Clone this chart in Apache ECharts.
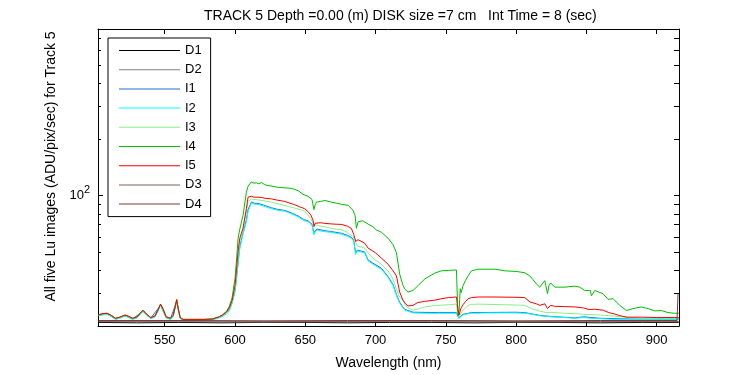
<!DOCTYPE html>
<html>
<head>
<meta charset="utf-8">
<script src="https://cdn.jsdelivr.net/npm/echarts@6/dist/echarts.min.js"></script>
<style>
html, body { margin: 0; padding: 0; background: #fff; }
#main { width: 750px; height: 375px; }
</style>
</head>
<body>
<div id="main"></div>
<script>
// [wavelength nm, ADU/pix/sec]
var d1 = [[503,20.9],[530,20.8],[560,20.9],[590,20.8],[620,20.9],[650,20.9],[680,20.8],[710,20.9],[740,20.9],[770,20.8],[800,20.9],[830,20.9],[860,20.8],[890,20.9],[915.8,20.9]];
var d2 = [[503,21.1],[560,21.1],[620,21.0],[680,21.1],[740,21.1],[800,21.0],[860,21.1],[915.8,21.1]];
var d3 = [[503,21.2],[560,21.3],[620,21.2],[680,21.2],[740,21.3],[800,21.2],[860,21.2],[915.8,21.2]];
var d4 = [[503,21.4],[560,21.4],[620,21.3],[680,21.4],[740,21.4],[800,21.3],[860,21.4],[914.6,21.4],[915.3,29.8]];

var i1 = [[503,22.8],[509,23.2],[515,21.8],[521.7,22.7],[527,21.8],[534.5,24.0],[540,22.0],[547,25.8],[551,22.2],[554,21.8],[558.5,27.1],[561,22.0],[563,21.6],[584,21.7],[591,22.6],[596,24.4],[598,26.8],[600,31],[601,36],[602.2,44],[603.4,53],[605.7,63],[608.1,74],[609.3,84],[611.7,92.4],[614,90.8],[616.4,90.8],[620,89],[625.9,86],[630,84.4],[635.4,83.2],[640,80.8],[644.9,77.7],[649,74.3],[652,73.2],[654.8,70.2],[656.2,62.5],[657,64.8],[658.5,66.1],[663.9,64.8],[668,64.2],[675.7,62.8],[680,61.2],[682.8,59.8],[684.5,57.6],[685.9,49],[687,51],[692.3,49.8],[694.7,45.1],[698.2,43.4],[704.2,40.8],[708.9,36.8],[712.5,33.3],[714.9,29.5],[717.2,26.8],[719.6,25.2],[721,24.5],[723.1,24.2],[726.7,23.7],[745,23.6],[757.6,23.6],[759.5,22.1],[762.3,23.1],[768.3,23.6],[800,23.7],[806.2,23.6],[816.9,22.8],[824.7,22.5],[841.8,22.1],[848,22.4],[860,22.0],[880,21.8],[915.8,21.8]];

var i2 = [[503,22.7],[506,23.0],[509,23.1],[512,22.5],[515,21.7],[518,22.0],[521.7,22.6],[524,22.3],[527,21.7],[530,22.0],[532.5,23.0],[534.5,23.9],[537,22.9],[540,21.9],[543,22.3],[545,23.8],[547,25.7],[549,24.1],[551,22.1],[554,21.7],[556,22.4],[557.5,25.0],[558.5,27.0],[559.5,24.6],[561,21.9],[563,21.5],[570,21.5],[578,21.5],[584,21.6],[588,22.0],[591,22.5],[594,23.2],[596,24.2],[598,26.5],[600,30.5],[601,35],[602.2,43],[603.4,52],[605.7,62],[608.1,72.4],[609.3,82],[611.7,91.4],[614,89.7],[616.4,89.7],[620,88],[625.9,85],[630,83.5],[635.4,82.4],[640,80],[644.9,76.9],[649,73.5],[652,72.4],[654.8,69.5],[656.2,61.6],[657,64],[658.5,65.4],[661,64.5],[663.9,64.1],[668,63.5],[672,62.8],[675.7,62.1],[680,60.5],[682.8,59.1],[684.5,57],[685.9,48.3],[687,50.5],[689,50],[692.3,49.3],[694.7,44.6],[698.2,42.9],[701,41.5],[704.2,40.3],[708.9,36.4],[712.5,32.9],[714.9,29.2],[717.2,26.5],[719.6,25.0],[721,24.3],[723.1,24.0],[726.7,23.5],[735,23.4],[745,23.4],[757.6,23.4],[759.5,21.9],[760.7,22.5],[762.3,22.9],[765.9,23.3],[768.3,23.4],[780,23.5],[800,23.5],[806.2,23.4],[810,23.2],[816.9,22.7],[824.7,22.4],[834.7,22.2],[841.8,22.0],[848,22.2],[853,22.0],[860,21.9],[869,21.7],[880,21.7],[900,21.7],[915.8,21.7]];

var i3 = [[503,22.9],[506,23.2],[509,23.3],[512,22.7],[515,21.9],[518,22.2],[521.7,22.8],[524,22.5],[527,21.9],[530,22.2],[532.5,23.3],[534.5,24.2],[537,23.1],[540,22.1],[543,22.5],[545,24.1],[547,26.0],[549,24.4],[551,22.3],[554,21.9],[556,22.7],[557.5,25.3],[558.5,27.5],[559.5,24.9],[561,22.1],[563,21.7],[570,21.7],[578,21.7],[584,21.8],[588,22.2],[591,22.8],[594,23.6],[596,24.8],[598,27.0],[600,32],[601,38],[602.2,48],[603.4,57],[605.7,65],[608.1,82],[609.3,93],[611.7,96],[615,95],[620,94],[625.9,92.2],[632,89.8],[638,87.5],[644,85],[649.6,82.4],[653.9,75.3],[656,70],[658,69.5],[661,68.5],[664,68],[668,67],[672,66],[676,65.4],[680,63.5],[684,60.3],[686.5,55],[687.6,53.4],[690,53],[692.3,52.3],[694.7,49.3],[698,46.4],[701,44.5],[704,42.9],[708.9,39.5],[712.5,35.7],[714.9,31.6],[717.2,28.5],[719.6,27.5],[721,26],[723.1,25.0],[726.7,24.3],[730,24.6],[735,25.3],[742,25.7],[748,25.9],[752,26],[757.6,26.2],[758.7,23.0],[759.5,22.3],[760.5,23.2],[762.3,24.3],[765.9,25.8],[768.3,26.1],[773,26.2],[800,25.9],[806.2,25.8],[811,24.8],[816.9,24],[822,23.6],[827.6,23.6],[834.7,23.4],[841.8,23.3],[848,23.1],[860,22.9],[870,22.6],[880,22.2],[890,22.0],[915.8,22.0]];

var i4 = [[503,23.0],[506,23.3],[509,23.4],[512,22.8],[515,22.0],[518,22.3],[521.7,22.9],[524,22.6],[527,22.0],[530,22.3],[532.5,23.4],[534.5,24.3],[537,23.2],[540,22.2],[543,22.6],[545,24.2],[547,26.2],[549,24.5],[551,22.4],[554,22.0],[556,22.8],[557.5,25.5],[558.5,27.7],[559.5,25.0],[561,22.2],[563,21.7],[570,21.7],[578,21.7],[584,21.8],[588,22.3],[591,22.9],[594,24.0],[596,25.5],[598,28.5],[600,36],[601,44],[602.2,59],[603.4,66],[605.7,78],[608.1,104],[609.3,112],[611.7,118.5],[613.5,116.5],[615.2,117],[617,115.5],[618.8,117.5],[621,114.5],[623.5,113],[627,112],[630.6,110.6],[635,110],[640,109.3],[643,107.5],[645,106],[648.4,101.5],[652,99],[654.8,95.3],[656.2,84],[657,89],[658,92.2],[661,93],[664,94],[668,92.5],[672,91],[676,89.7],[680.5,88.6],[684,83.4],[685.5,78],[686.4,66.7],[687.6,72.4],[691,73.2],[694.7,70.3],[698.2,68.1],[700.6,65.4],[704.2,63.6],[708.9,59.1],[712.5,54.6],[714.9,49.3],[717.2,38],[719.6,32.9],[721,31.5],[723.1,30.4],[726.7,31.0],[730.3,32.9],[735,35.7],[742.2,38.4],[746.9,39.5],[752,39.7],[757.6,39.9],[758.7,22.6],[759.5,24],[760.3,31.7],[761,30.2],[762.3,32.9],[764,35],[765.9,37.1],[768.3,39.5],[773,40.3],[785,40.3],[792,39.5],[800,39.2],[806.2,38.6],[809.8,37.1],[812,35.5],[814.5,33.6],[816.9,32.3],[818,33],[820.5,35],[822.4,29.8],[823.5,33],[824.7,34],[827.6,32.3],[834.7,32.3],[841.8,32.7],[845.3,32.3],[848.9,31],[852.9,31],[853.7,29.0],[856,31],[861.9,29.8],[865.5,27.8],[869.1,28],[873.8,25.8],[878.6,24.2],[883.3,24.8],[889.3,25.3],[894,24.8],[898.7,24.1],[903.5,24.2],[908.2,23.6],[913,23.4],[915.8,23.4]];

var i5 = [[503,23.0],[506,23.3],[509,23.4],[512,22.8],[515,22.0],[518,22.3],[521.7,22.9],[524,22.6],[527,22.0],[530,22.3],[532.5,23.4],[534.5,24.3],[537,23.2],[540,22.2],[543,22.6],[545,24.2],[547,26.2],[549,24.5],[551,22.4],[554,22.0],[556,22.8],[557.5,25.5],[558.5,27.7],[559.5,25.0],[561,22.2],[563,21.7],[570,21.7],[578,21.7],[584,21.8],[588,22.3],[591,22.9],[594,23.8],[596,25.0],[598,27.5],[600,32.9],[601,39.5],[602.2,50.3],[603.4,59.1],[605.7,66.7],[608.1,85],[609.3,98],[611.7,99],[613.5,98],[616.4,98],[619,97.5],[622,96.5],[625.9,96],[630,94.5],[635.4,93],[639,91],[642.5,89.3],[646,87],[649.6,85],[652,82],[653.9,78.8],[655.5,74],[656.2,68.1],[657,71],[658,72.4],[661,71.5],[664,70.9],[668,70.5],[672,70.2],[676,70],[680,68.5],[682.8,66.7],[684.5,62],[685.9,56.8],[687.6,58],[689,57.5],[692.3,55.6],[694.7,52.3],[698,50.5],[700,49.3],[704,46.4],[708.9,42.9],[712.5,39.5],[714.9,37.1],[717.2,30.4],[719.5,27.5],[721,26.5],[723.1,25.6],[726.7,25.8],[730,26.7],[735,27.1],[742,27.5],[748,28.1],[752,28.4],[757.6,28.6],[758.7,24.5],[759.5,22.9],[760.7,24.8],[762.3,26],[764,27],[765.9,28.0],[768.3,28.4],[773,28.6],[785,28.6],[800,28.5],[806.2,28.4],[810,26.9],[814.5,26.3],[816.9,25.8],[820.5,26.3],[822.4,24.8],[824.7,25.8],[827.6,25.5],[834.7,25.4],[841.8,25.3],[848,25.0],[852,24.5],[856,24.6],[862,24.3],[866,23.6],[870,23.2],[874,22.7],[879,22.3],[890,22.3],[900,22.2],[913,22.2],[915.8,22.2]];

var seriesNames = ['D1', 'D2', 'I1', 'I2', 'I3', 'I4', 'I5', 'D3', 'D4'];
var seriesData = [d1, d2, i1, i2, i3, i4, i5, d3, d4];
var seriesColors = ['#000000', '#808080', '#1e6edc', '#00ffff', '#88f088', '#00c000', '#ff0000', '#806060', '#803838'];
var minorTickVals = [30, 40, 50, 60, 70, 80, 90, 200, 300, 400, 500, 600, 700];

var font = 'Liberation Sans, Arial, sans-serif';
var chart = echarts.init(document.getElementById('main'));

var series = seriesNames.map(function (name, k) {
	return {
		name: name,
		type: 'line',
		data: seriesData[k],
		symbol: 'none',
		color: seriesColors[k],
		lineStyle: { width: 1, color: seriesColors[k] },
		emphasis: { disabled: true }
	};
});

// minor log ticks on both y axes
series.push({
	type: 'custom',
	silent: true,
	clip: false,
	xAxisIndex: 0,
	yAxisIndex: 0,
	data: minorTickVals.map(function (v) { return [600, v]; }),
	renderItem: function (params, api) {
		var p = api.coord([api.value(0), api.value(1)]);
		var cs = params.coordSys;
		var y = Math.round(p[1]) + 0.5;
		return {
			type: 'group',
			children: [
				{ type: 'line', shape: { x1: cs.x, y1: y, x2: cs.x + 3, y2: y }, style: { stroke: '#000', lineWidth: 1 } },
				{ type: 'line', shape: { x1: cs.x + cs.width - 5, y1: y, x2: cs.x + cs.width, y2: y }, style: { stroke: '#000', lineWidth: 1 } }
			]
		};
	},
	z: 10
});

var option = {
	animation: false,
	backgroundColor: '#fff',
	textStyle: { fontFamily: font },
	title: {
		text: 'TRACK 5 Depth =0.00 (m) DISK size =7 cm   Int Time = 8 (sec)',
		left: 199,
		top: 4,
		textStyle: { fontFamily: font, fontSize: 14, fontWeight: 'normal', color: '#000' }
	},
	legend: {
		orient: 'vertical',
		left: 108,
		top: 38,
		data: seriesNames,
		selectedMode: false,
		icon: 'rect',
		itemWidth: 61,
		itemHeight: 1,
		itemGap: 6.2,
		itemTextGap: 7,
		padding: [6, 9, 6, 11],
		borderColor: '#000',
		borderWidth: 1,
		backgroundColor: '#fff',
		textStyle: { fontFamily: font, fontSize: 13, color: '#000' }
	},
	grid: { left: 98, right: 71, top: 29, bottom: 44 },
	xAxis: [{
		type: 'value',
		min: 502.5,
		max: 916,
		splitNumber: 8,
		position: 'bottom',
		name: 'Wavelength (nm)',
		nameLocation: 'middle',
		nameGap: 30,
		nameTextStyle: { fontFamily: font, fontSize: 14, color: '#000' },
		axisLine: { lineStyle: { color: '#000', width: 1 } },
		axisTick: { inside: true, length: 5, lineStyle: { color: '#000' } },
		axisLabel: {
			color: '#000', fontFamily: font, fontSize: 13, margin: 8,
			formatter: function (v) { return v % 50 === 0 ? String(v) : ''; }
		},
		splitLine: { show: false }
	}, {
		type: 'value',
		min: 502.5,
		max: 916,
		splitNumber: 8,
		position: 'top',
		axisLine: { lineStyle: { color: '#000', width: 1 } },
		axisTick: { inside: true, length: 5, lineStyle: { color: '#000' } },
		axisLabel: { show: false },
		splitLine: { show: false }
	}],
	yAxis: [{
		type: 'log',
		logBase: 10,
		min: 20,
		max: 780,
		position: 'left',
		name: 'All five Lu images (ADU/pix/sec) for Track 5',
		nameLocation: 'middle',
		nameGap: 27,
		nameTextStyle: { fontFamily: font, fontSize: 14, color: '#000', padding: [0, 0, 0, 22] },
		axisLine: { lineStyle: { color: '#000', width: 1 } },
		axisTick: { inside: true, length: 5, lineStyle: { color: '#000' } },
		axisLabel: {
			margin: 8,
			formatter: function (v) { return Math.abs(v - 100) < 0.01 ? '{a|10}{b|2}' : ''; },
			rich: {
				a: { fontFamily: font, fontSize: 13, color: '#000' },
				b: { fontFamily: font, fontSize: 11, color: '#000', padding: [0, 0, 11, 0] }
			}
		},
		splitLine: { show: false }
	}, {
		type: 'log',
		logBase: 10,
		min: 20,
		max: 780,
		position: 'right',
		axisLine: { lineStyle: { color: '#000', width: 1 } },
		axisTick: { inside: true, length: 5, lineStyle: { color: '#000' } },
		axisLabel: { show: false },
		splitLine: { show: false }
	}],
	series: series
};

chart.setOption(option);
</script>
</body>
</html>
